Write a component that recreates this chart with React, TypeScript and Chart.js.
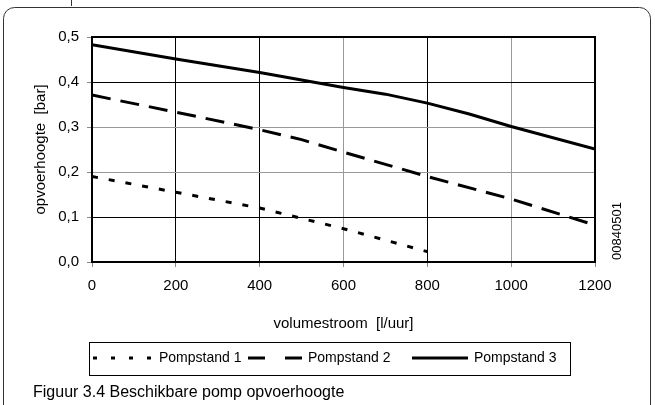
import React, { useEffect, useRef } from "react";
import { Chart, registerables } from "chart.js";

Chart.register(...registerables);

const seriesNames = ["Pompstand 1", "Pompstand 2", "Pompstand 3"];
const flow1 = [0, 200, 400, 600, 800];
const head1 = [0.19, 0.155, 0.12, 0.074, 0.023];
const flow2 = [0, 200, 400, 500, 600, 800, 1000, 1200];
const head2 = [0.371, 0.333, 0.294, 0.272, 0.244, 0.19, 0.14, 0.082];
const flow3 = [0, 200, 400, 600, 700, 800, 900, 1000, 1200];
const head3 = [0.483, 0.451, 0.421, 0.388, 0.373, 0.353, 0.329, 0.301, 0.251];

const xMin = 0;
const xMax = 1200;
const xStep = 200;
const yMin = 0;
const yMax = 0.5;
const yStep = 0.1;
const grayX = [600, 1000];
const grayY = [0.2, 0.3];

const xTitle = "volumestroom  [l/uur]";
const yTitle = "opvoerhoogte  [bar]";
const caption = "Figuur 3.4 Beschikbare pomp opvoerhoogte";
const codeText = "00840501";

const FONT = "'Liberation Sans', Arial, sans-serif";

const toPts = (xs: number[], ys: number[]) => xs.map((x, i) => ({ x, y: ys[i] }));

const decor = {
  id: "decor",
  beforeDatasetsDraw(chart: any) {
    const { ctx, chartArea } = chart;
    ctx.save();
    ctx.strokeStyle = "#000";
    ctx.lineWidth = 2;
    ctx.beginPath();
    ctx.moveTo(chartArea.left, chartArea.top);
    ctx.lineTo(chartArea.right, chartArea.top);
    ctx.lineTo(chartArea.right, chartArea.bottom);
    ctx.stroke();
    ctx.restore();
  },
  afterDraw(chart: any) {
    const { ctx, chartArea } = chart;
    ctx.save();
    // outer frame
    ctx.strokeStyle = "#333";
    ctx.lineWidth = 1;
    const fx = 3.5, fy = 7.5, fw = 647, fh = 410, r = 11;
    ctx.beginPath();
    ctx.moveTo(fx + r, fy);
    ctx.lineTo(fx + fw - r, fy);
    ctx.arcTo(fx + fw, fy, fx + fw, fy + r, r);
    ctx.lineTo(fx + fw, fy + fh - r);
    ctx.arcTo(fx + fw, fy + fh, fx + fw - r, fy + fh, r);
    ctx.lineTo(fx + r, fy + fh);
    ctx.arcTo(fx, fy + fh, fx, fy + fh - r, r);
    ctx.lineTo(fx, fy + r);
    ctx.arcTo(fx, fy, fx + r, fy, r);
    ctx.stroke();
    ctx.beginPath();
    ctx.moveTo(71.5, 0);
    ctx.lineTo(71.5, 6);
    ctx.stroke();

    ctx.fillStyle = "#000";
    // axis titles
    ctx.font = `15px ${FONT}`;
    ctx.textAlign = "center";
    ctx.textBaseline = "middle";
    ctx.fillText(xTitle, (chartArea.left + chartArea.right) / 2, 324);
    ctx.save();
    ctx.translate(41, (chartArea.top + chartArea.bottom) / 2);
    ctx.rotate(-Math.PI / 2);
    ctx.fillText(yTitle, 0, 0);
    ctx.restore();
    ctx.save();
    ctx.font = `13px ${FONT}`;
    ctx.translate(617, 231);
    ctx.rotate(-Math.PI / 2);
    ctx.fillText(codeText, 0, 0);
    ctx.restore();

    // legend
    const ly = 358;
    ctx.strokeStyle = "#000";
    ctx.lineWidth = 1;
    ctx.strokeRect(89.5, 342.5, 481, 33);
    ctx.lineWidth = 3;
    ctx.lineCap = "butt";
    ctx.setLineDash([4, 14]);
    ctx.beginPath();
    ctx.moveTo(93, ly);
    ctx.lineTo(157, ly);
    ctx.stroke();
    ctx.setLineDash([17, 20]);
    ctx.beginPath();
    ctx.moveTo(248, ly);
    ctx.lineTo(302, ly);
    ctx.stroke();
    ctx.setLineDash([]);
    ctx.beginPath();
    ctx.moveTo(412, ly);
    ctx.lineTo(468, ly);
    ctx.stroke();
    ctx.font = `14px ${FONT}`;
    ctx.textAlign = "left";
    ctx.fillText(seriesNames[0], 159, ly);
    ctx.fillText(seriesNames[1], 308, ly);
    ctx.fillText(seriesNames[2], 474, ly);

    // caption
    ctx.font = `16px ${FONT}`;
    ctx.textBaseline = "alphabetic";
    ctx.fillText(caption, 33, 397);
    ctx.restore();
  },
};

export default function App() {
  const ref = useRef<HTMLCanvasElement | null>(null);
  useEffect(() => {
    document.body.style.margin = "0";
    if (!ref.current) return;
    const near = (a: number, list: number[]) => list.some((v) => Math.abs(v - a) < 1e-6);
    const chart = new Chart(ref.current, {
      type: "line",
      data: {
        datasets: [
          {
            label: seriesNames[0],
            data: toPts(flow1, head1),
            borderColor: "#000",
            borderWidth: 3,
            borderDash: [6, 11],
            pointRadius: 0,
            tension: 0,
          },
          {
            label: seriesNames[1],
            data: toPts(flow2, head2),
            borderColor: "#000",
            borderWidth: 3,
            borderDash: [19, 10],
            pointRadius: 0,
            tension: 0,
          },
          {
            label: seriesNames[2],
            data: toPts(flow3, head3),
            borderColor: "#000",
            borderWidth: 3,
            pointRadius: 0,
            tension: 0,
          },
        ],
      },
      options: {
        responsive: false,
        animation: false,
        devicePixelRatio: 1,
        layout: { padding: { left: 0, top: 37, right: 60, bottom: 0 } },
        plugins: { legend: { display: false }, tooltip: { enabled: false } },
        scales: {
          x: {
            type: "linear",
            min: xMin,
            max: xMax,
            ticks: {
              stepSize: xStep,
              color: "#000",
              font: { family: FONT, size: 15 },
              padding: 10,
              maxRotation: 0,
              callback: (v: any) => String(v),
            },
            grid: {
              color: (c: any) => (near(c.tick?.value, grayX) ? "#999" : "#000"),
              tickColor: "#888",
              tickLength: 5,
              lineWidth: 1,
            },
            border: { color: "#000", width: 2 },
            afterFit: (s: any) => {
              s.height = 405 - 262;
            },
          },
          y: {
            type: "linear",
            min: yMin,
            max: yMax,
            ticks: {
              stepSize: yStep,
              color: "#000",
              font: { family: FONT, size: 15 },
              padding: 8,
              callback: (v: any) => Number(v).toFixed(1).replace(".", ","),
            },
            grid: {
              color: (c: any) => (near(c.tick?.value, grayY) ? "#999" : "#000"),
              tickColor: "#888",
              tickLength: 5,
              lineWidth: 1,
            },
            border: { color: "#000", width: 2 },
            afterFit: (s: any) => {
              s.width = 92;
            },
          },
        },
      },
      plugins: [decor],
    } as any);
    return () => chart.destroy();
  }, []);
  return (
    <div style={{ position: "absolute", left: 0, top: 0, width: 655, height: 405, background: "#fff" }}>
      <canvas ref={ref} width={655} height={405} style={{ display: "block" }} />
    </div>
  );
}
